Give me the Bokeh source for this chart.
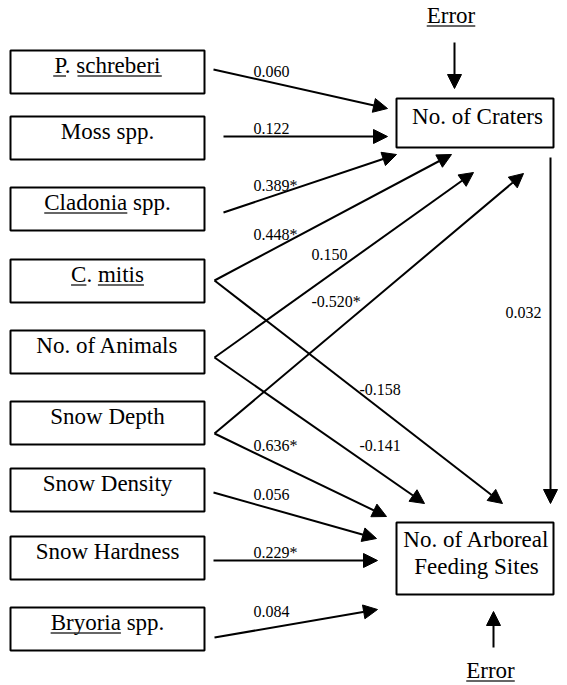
from bokeh.plotting import figure
from bokeh.models import Range1d, ColumnDataSource, Arrow, NormalHead
from bokeh.core.properties import value
from bokeh.embed import file_html
from bokeh.resources import INLINE

# ---------------- data ----------------
predictors = ["P. schreberi", "Moss spp.", "Cladonia spp.", "C. mitis", "No. of Animals",
              "Snow Depth", "Snow Density", "Snow Hardness", "Bryoria spp."]
craters = "No. of Craters"
arboreal = ["No. of Arboreal", "Feeding Sites"]
error_label = "Error"

edge_src = ["P. schreberi", "Moss spp.", "Cladonia spp.", "C. mitis", "No. of Animals", "Snow Depth",
            "C. mitis", "No. of Animals", "Snow Depth", "Snow Density", "Snow Hardness", "Bryoria spp.",
            "No. of Craters"]
edge_tgt = ["craters"] * 6 + ["arboreal"] * 7
edge_coef = ["0.060", "0.122", "0.389*", "0.448*", "0.150", "-0.520*",
             "-0.158", "-0.141", "0.636*", "0.056", "0.229*", "0.084", "0.032"]

# underlined (genus / species) words in labels
underlined = {"P. schreberi": ["P", "schreberi"], "Cladonia spp.": ["Cladonia"],
              "C. mitis": ["C", "mitis"], "Bryoria spp.": ["Bryoria"], "Error": ["Error"]}

# ---------------- layout (pixels) ----------------
box_tops = [50, 116, 187, 259, 330, 401, 468, 536, 607]
box_h = 43
box_l, box_r = 10, 204
crater_box = (396, 553, 98, 147)
arb_box = (396, 553, 522, 594)

edge_start = [(213, 69), (223, 136), (223, 212), (214, 280), (214, 357), (214, 433),
              (214, 280), (214, 357), (214, 433), (213, 492), (213, 560), (214, 637), (550, 157)]
edge_end = [(387, 108), (387, 136), (396, 154), (451, 154), (473, 172), (523, 173),
            (502, 503), (424, 503), (386, 516), (376, 538), (377, 560), (377, 609), (550, 503)]
label_pos = [(253, 71), (253, 128), (253, 185), (253, 233.5), (311, 253.5), (311, 301),
             (359, 388.5), (359, 444.5), (253, 445), (253, 493.5), (253, 552), (253, 610.5), (505, 311.5)]

FONT = "'Liberation Serif', 'Times New Roman', Times, serif"
FS = 23
# Times advance widths (per em)
W = {' ': .25, '.': .25, '-': .333, '*': .5, 'A': .722, 'B': .667, 'C': .667, 'D': .722, 'E': .611,
     'F': .556, 'H': .722, 'M': .889, 'N': .722, 'P': .556, 'S': .556, 'a': .444, 'b': .5, 'c': .444,
     'd': .5, 'e': .444, 'f': .333, 'g': .5, 'h': .5, 'i': .278, 'l': .278, 'm': .778, 'n': .5,
     'o': .5, 'p': .5, 'r': .333, 's': .389, 't': .278, 'w': .722, 'y': .5}


def tw(s, fs):
    return sum(W.get(c, .5) for c in s) * fs


p = figure(width=567, height=685, x_range=Range1d(0, 567), y_range=Range1d(685, 0),
           output_backend="svg", toolbar_location=None, min_border=0,
           x_axis_location=None, y_axis_location=None)
p.grid.visible = False
p.outline_line_color = None
p.background_fill_color = "white"
p.border_fill_color = "white"

# boxes
lefts = [box_l] * len(predictors) + [crater_box[0], arb_box[0]]
rights = [box_r] * len(predictors) + [crater_box[1], arb_box[1]]
tops = box_tops + [crater_box[2], arb_box[2]]
bottoms = [t + box_h for t in box_tops] + [crater_box[3], arb_box[3]]
p.quad(left=lefts, right=rights, top=tops, bottom=bottoms, fill_color="white",
       line_color="black", line_width=2)

# box texts (y = middle of the em box)
cx = (box_l + box_r) / 2
tx, ty, tt = [], [], []
for name, t in zip(predictors, box_tops):
    tx.append(cx); ty.append(t + 15); tt.append(name)
tx += [477, 476, 476]
ty += [116, 539, 566]
tt += [craters] + arboreal
tx += [450.5, 490]
ty += [15, 670]
tt += [error_label, error_label]
p.text(x=tx, y=ty, text=tt, text_font=value(FONT), text_font_size=f"{FS}px",
       text_align="center", text_baseline="middle", text_color="black")

# underlines
ux0, ux1, uy = [], [], []
for x, y, s in zip(tx, ty, tt):
    if s in underlined:
        start = x - tw(s, FS) / 2
        for word in underlined[s]:
            i = s.index(word)
            ux0.append(start + tw(s[:i], FS))
            ux1.append(start + tw(s[:i + len(word)], FS))
            uy.append(y + 10.5)
p.segment(x0=ux0, y0=uy, x1=ux1, y1=uy, line_color="#333333", line_width=1.3)

# path arrows
src = ColumnDataSource(dict(x0=[s[0] for s in edge_start], y0=[s[1] for s in edge_start],
                            x1=[e[0] for e in edge_end], y1=[e[1] for e in edge_end]))
p.add_layout(Arrow(end=NormalHead(size=14, fill_color="black", line_color="black", line_width=1),
                   x_start="x0", y_start="y0", x_end="x1", y_end="y1", source=src,
                   line_width=2, line_color="black"))

# error arrows
esrc = ColumnDataSource(dict(x0=[454, 493], y0=[42, 647], x1=[454, 493], y1=[88, 611]))
p.add_layout(Arrow(end=NormalHead(size=14, fill_color="black", line_color="black", line_width=1),
                   x_start="x0", y_start="y0", x_end="x1", y_end="y1", source=esrc,
                   line_width=2, line_color="black"))

# coefficient labels
p.text(x=[lp[0] for lp in label_pos], y=[lp[1] for lp in label_pos], text=edge_coef,
       text_font=value(FONT), text_font_size="16px", text_align="left",
       text_baseline="middle", text_color="black")

open("out.html", "w").write(file_html(p, INLINE))
